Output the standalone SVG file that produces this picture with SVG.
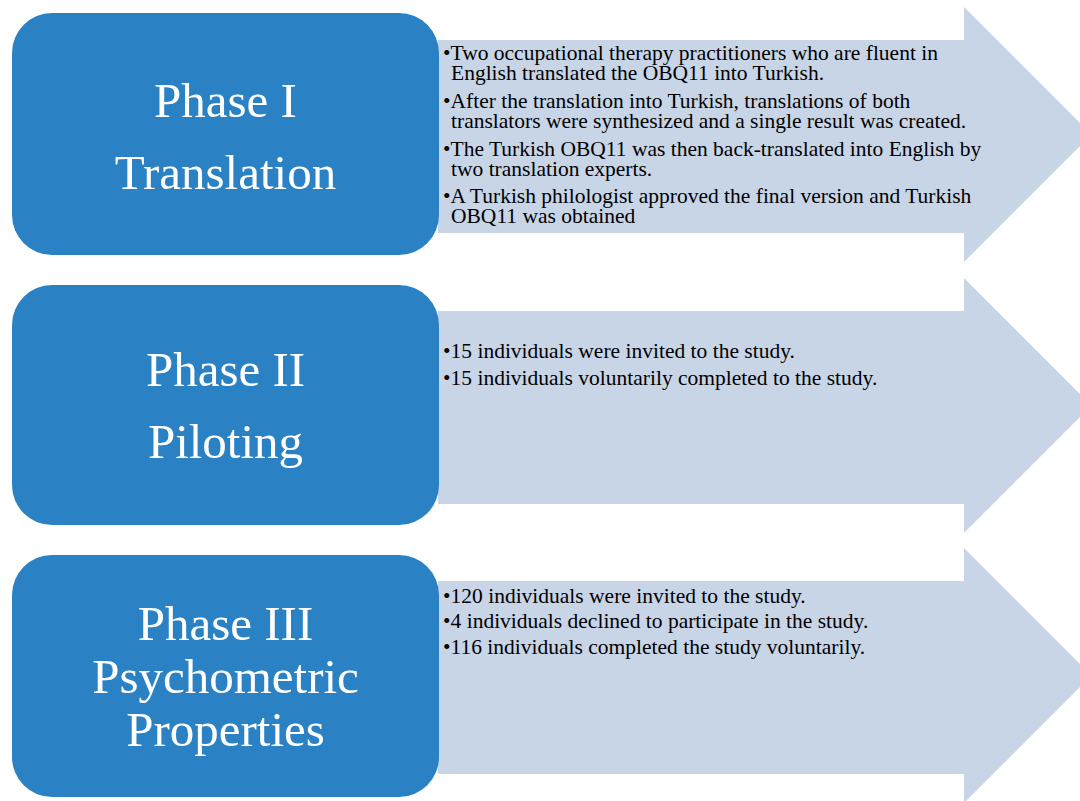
<svg xmlns="http://www.w3.org/2000/svg" width="1080" height="801" viewBox="0 0 1080 801">
<style>
.box{fill:#2A82C5;}
.arrow{fill:#C8D5E7;}
.title{font-family:"Liberation Serif","Times New Roman",serif;font-size:49px;fill:#FFFFFF;text-anchor:middle;}
.bul{font-family:"Liberation Serif","Times New Roman",serif;font-size:21.5px;fill:#000000;}
</style>
<rect width="1080" height="801" fill="#FFFFFF"/>
<g id="arrow1">
<path class="arrow" d="M438,40 H964 V7 L1091.5,134.5 L964,262 V233 H438 Z"/>
<text class="bul"><tspan x="443" y="60">•Two occupational therapy practitioners who are fluent in</tspan><tspan x="451" y="80">English translated the OBQ11 into Turkish.</tspan><tspan x="443" y="108">•After the translation into Turkish, translations of both</tspan><tspan x="451" y="128">translators were synthesized and a single result was created.</tspan><tspan x="443" y="156">•The Turkish OBQ11 was then back-translated into English by</tspan><tspan x="451" y="176">two translation experts.</tspan><tspan x="443" y="203">•A Turkish philologist approved the final version and Turkish</tspan><tspan x="451" y="223">OBQ11 was obtained</tspan></text>
</g>
<g id="arrow2">
<path class="arrow" d="M438,311 H964 V278 L1091.5,405.5 L964,533 V504 H438 Z"/>
<text class="bul"><tspan x="443" y="358">•15 individuals were invited to the study.</tspan><tspan x="443" y="385">•15 individuals voluntarily completed to the study.</tspan></text>
</g>
<g id="arrow3">
<path class="arrow" d="M438,581 H964 V548 L1091.5,675.5 L964,803 V774 H438 Z"/>
<text class="bul"><tspan x="443" y="603">•120 individuals were invited to the study.</tspan><tspan x="443" y="628">•4 individuals declined to participate in the study.</tspan><tspan x="443" y="654">•116 individuals completed the study voluntarily.</tspan></text>
</g>
<g id="phase1">
<rect class="box" x="12" y="13" width="427" height="242" rx="40" ry="40"/>
<text class="title" x="225.5" y="117">Phase I</text>
<text class="title" x="225.5" y="189">Translation</text>
</g>
<g id="phase2">
<rect class="box" x="12" y="285" width="427" height="240" rx="40" ry="40"/>
<text class="title" x="225.5" y="386">Phase II</text>
<text class="title" x="225.5" y="458">Piloting</text>
</g>
<g id="phase3">
<rect class="box" x="12" y="555" width="427" height="242" rx="40" ry="40"/>
<text class="title" x="225.5" y="640">Phase III</text>
<text class="title" x="225.5" y="693">Psychometric</text>
<text class="title" x="225.5" y="746">Properties</text>
</g>
</svg>
